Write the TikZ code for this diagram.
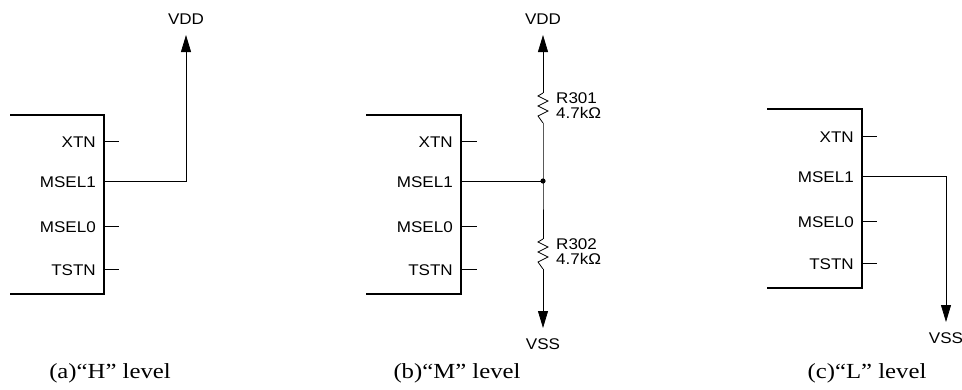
\documentclass[tikz,border=0pt]{standalone}
\usepackage{fontspec}
\usetikzlibrary{arrows.meta}
\newfontfamily\labfont[FakeStretch=1.1]{Liberation Sans}
\newfontfamily\capfont[FakeStretch=1.15]{Liberation Serif}
\tikzset{
  boxline/.style={line width=1.4pt},
  wire/.style={line width=0.8pt},
  pinlab/.style={anchor=east, inner sep=0pt, font=\labfont\fontsize{15.5}{17}\selectfont},
  rail/.style={inner sep=0pt, font=\labfont\fontsize{15.5}{17}\selectfont},
  rlab/.style={anchor=west, inner sep=0pt, font=\labfont\fontsize{15.5}{17}\selectfont},
  captxt/.style={inner sep=0pt, font=\capfont\fontsize{21.5}{24}\selectfont},
  tip/.style={-{Triangle[length=17pt,width=10pt]}},
}
\begin{document}
\begin{tikzpicture}[x=1pt,y=-1pt]
\useasboundingbox (0,0) rectangle (962,389);

% ---------- panel (a) ----------
\draw[boxline] (10,115) -- (104,115) -- (104,294) -- (10,294);
\node[pinlab] (aX) at (96,142) {XTN};
\node[pinlab] (aM1) at (96,182) {MSEL1};
\node[pinlab] (aM0) at (96,227) {MSEL0};
\node[pinlab] (aT) at (96,270) {TSTN};
\coordinate (aXp) at (104,141); \coordinate (aXe) at (119,141);
\coordinate (aM0p) at (104,226); \coordinate (aM0e) at (119,226);
\coordinate (aTp) at (104,269); \coordinate (aTe) at (119,269);
\draw[wire] (aXp) -- (aXe);
\draw[wire] (aM0p) -- (aM0e);
\draw[wire] (aTp) -- (aTe);
\coordinate (aM1p) at (104,181);
\coordinate (aCorner) at (186,181);
\coordinate (aTop) at (186,35);
\node[rail] (aVDD) at (186,19) {VDD};
\draw[wire,tip] (aM1p) -- (aCorner) -- (aTop);
\node[captxt] (capA) at (110,373) {(a)“H” level};

% ---------- panel (b) ----------
\draw[boxline] (366,115) -- (461,115) -- (461,294) -- (366,294);
\node[pinlab] (bX) at (453,142) {XTN};
\node[pinlab] (bM1) at (453,182) {MSEL1};
\node[pinlab] (bM0) at (453,227) {MSEL0};
\node[pinlab] (bT) at (453,270) {TSTN};
\coordinate (bXp) at (461,141); \coordinate (bXe) at (477,141);
\coordinate (bM0p) at (461,226); \coordinate (bM0e) at (477,226);
\coordinate (bTp) at (461,269); \coordinate (bTe) at (477,269);
\draw[wire] (bXp) -- (bXe);
\draw[wire] (bM0p) -- (bM0e);
\draw[wire] (bTp) -- (bTe);
\coordinate (bM1p) at (461,181);
\coordinate (bJ) at (543,181);
\coordinate (bTop) at (543,35);
\coordinate (bBot) at (543,328);
\coordinate (r1t) at (543,93); \coordinate (r1b) at (543,123);
\coordinate (r2t) at (543,239); \coordinate (r2b) at (543,269);
\node[rail] (bVDD) at (543,19) {VDD};
\node[rail] (bVSS) at (543,344) {VSS};
\draw[wire] (bM1p) -- (bJ);
\draw[wire,tip] (r1t) -- (bTop);
\draw[wire] (r1b) -- (bJ) -- (r2t);
\draw[wire,tip] (r2b) -- (bBot);
\draw[wire,line join=miter] (r1t) -- ++(-5,3) -- ++(10,5) -- ++(-10,5) -- ++(10,5) -- ++(-10,5) -- ++(5,7) -- (r1b);
\draw[wire,line join=miter] (r2t) -- ++(-5,3) -- ++(10,5) -- ++(-10,5) -- ++(10,5) -- ++(-10,5) -- ++(5,7) -- (r2b);
\fill (bJ) circle (2.6);
\node[rlab] (R1a) at (556,98) {R301};
\node[rlab] (R1b) at (556,113) {4.7k\symbol{"03A9}};
\node[rlab] (R2a) at (556,244) {R302};
\node[rlab] (R2b) at (556,259) {4.7k\symbol{"03A9}};
\node[captxt] (capB) at (457,373) {(b)“M” level};

% ---------- panel (c) ----------
\draw[boxline] (767,109) -- (862,109) -- (862,288) -- (767,288);
\node[pinlab] (cX) at (854,137) {XTN};
\node[pinlab] (cM1) at (854,177) {MSEL1};
\node[pinlab] (cM0) at (854,222) {MSEL0};
\node[pinlab] (cT) at (854,264) {TSTN};
\coordinate (cXp) at (862,136); \coordinate (cXe) at (877,136);
\coordinate (cM0p) at (862,221); \coordinate (cM0e) at (877,221);
\coordinate (cTp) at (862,263); \coordinate (cTe) at (877,263);
\draw[wire] (cXp) -- (cXe);
\draw[wire] (cM0p) -- (cM0e);
\draw[wire] (cTp) -- (cTe);
\coordinate (cM1p) at (862,176);
\coordinate (cCorner) at (946,176);
\coordinate (cBot) at (946,322);
\node[rail] (cVSS) at (946,338) {VSS};
\draw[wire,tip] (cM1p) -- (cCorner) -- (cBot);
\node[captxt] (capC) at (867,373) {(c)“L” level};
\end{tikzpicture}
\end{document}
